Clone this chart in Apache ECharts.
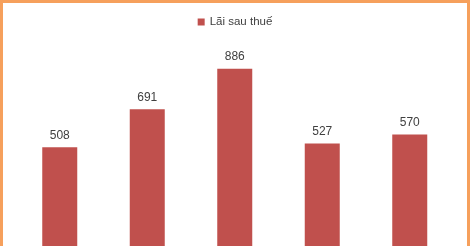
<!DOCTYPE html>
<html>
<head>
<meta charset="utf-8">
<script src="https://cdn.jsdelivr.net/npm/echarts@6/dist/echarts.min.js"></script>
<style>
html,body{margin:0;padding:0;background:#fff;overflow:hidden;}
#wrap{position:relative;width:470px;height:246px;overflow:hidden;}
#chart{position:absolute;left:0;top:0;width:470px;height:260px;}
#frame{position:absolute;left:0;top:0;width:470px;height:260px;box-sizing:border-box;border:3px solid #F6A05C;pointer-events:none;}
</style>
</head>
<body>
<div id="wrap"><div id="chart"></div><div id="frame"></div></div>
<script>
const categories = ['1', '2', '3', '4', '5'];
const seriesName = 'Lãi sau thuế';
const values = [508, 691, 886, 527, 570];

const chart = echarts.init(document.getElementById('chart'), null, {renderer: 'canvas'});
chart.setOption({
  animation: false,
  backgroundColor: '#ffffff',
  textStyle: {fontFamily: 'Liberation Sans'},
  legend: {
    data: [seriesName],
    top: 11,
    left: 'center',
    icon: 'rect',
    itemWidth: 7,
    itemHeight: 7,
    itemGap: 4,
    textStyle: {fontSize: 11.5, color: '#404040', fontFamily: 'Liberation Sans'}
  },
  grid: {left: 16, right: 16.5, top: 45, bottom: 7, containLabel: false},
  xAxis: {
    type: 'category',
    data: categories,
    axisLine: {show: false},
    axisTick: {show: false},
    axisLabel: {show: false}
  },
  yAxis: {
    type: 'value',
    min: 0,
    max: 1000,
    show: false,
    splitLine: {show: false}
  },
  series: [{
    name: seriesName,
    type: 'bar',
    data: values,
    barWidth: 35,
    itemStyle: {color: '#C0504D'},
    label: {
      show: true,
      position: 'top',
      distance: 6,
      fontSize: 12,
      color: '#404040',
      fontFamily: 'Liberation Sans'
    }
  }]
});
</script>
</body>
</html>
